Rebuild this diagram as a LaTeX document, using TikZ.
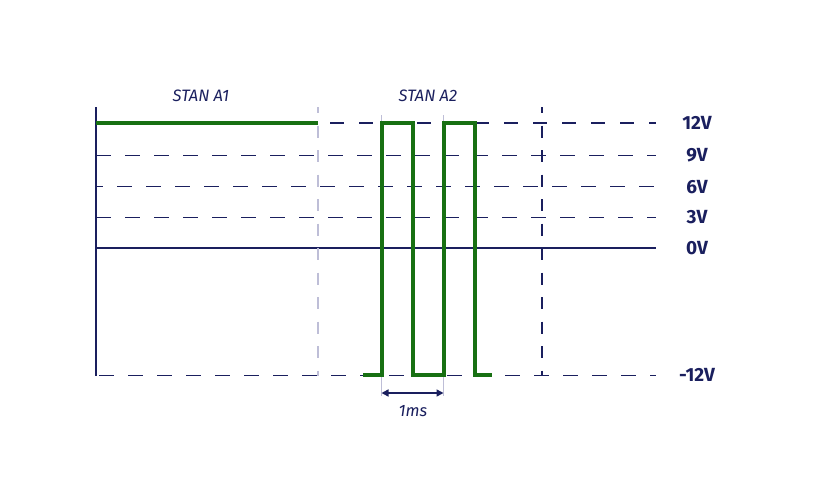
\documentclass[tikz,border=0pt]{standalone}
\usepackage{fontspec}
\setmainfont{Fira Sans}
\usetikzlibrary{arrows.meta}
\definecolor{navy}{RGB}{26,31,94}
\definecolor{sig}{RGB}{24,112,18}
\definecolor{guide}{RGB}{190,190,215}
\tikzset{
  grid/.style={navy, line width=1pt, dash pattern=on 15pt off 14pt},
  gridthick/.style={navy, line width=2.2pt, dash pattern=on 14pt off 15pt},
  guideline/.style={guide, line width=1pt},
  signal/.style={sig, line width=4pt, line join=miter},
  vlabel/.style={navy, font=\bfseries\fontsize{19}{19}\selectfont, anchor=center},
  stlabel/.style={navy, font=\itshape\fontsize{16.5}{17}\selectfont},
}
\begin{document}
\begin{tikzpicture}[x=1pt,y=-1pt]
\useasboundingbox (0,0) rectangle (814,480);
% coordinates
\coordinate (axT) at (96,107);
\coordinate (axB) at (96,376);
\foreach \n/\y in {v12/123, v9/155, v6/186, v3/217, v0/248, vm/375}{
  \coordinate (\n L) at (96,\y);
  \coordinate (\n R) at (656,\y);
}
\coordinate (v12M) at (318,123);
% grid lines
\draw[grid] (v9L) -- (v9R);
\draw[grid, dash phase=8pt] (v6L) -- (v6R);
\draw[grid] (v3L) -- (v3R);
\draw[grid, dash phase=26pt] (vmL) -- (vmR);
\draw[navy, line width=1.3pt] (v0L) -- (v0R);
\draw[gridthick, dash phase=17pt] (v12M) -- (v12R);
% vertical separators
\coordinate (s1T) at (318,107); \coordinate (s1B) at (318,376);
\draw[guide, line width=1.3pt, dash pattern=on 12pt off 12.5pt, dash phase=6pt] (s1T) -- (s1B);
\coordinate (s2T) at (542,107); \coordinate (s2B) at (542,376);
\draw[navy, line width=1.1pt, dash pattern=on 12pt off 12.5pt, dash phase=6pt] (s2T) -- (s2B);
% guide ticks
\coordinate (g1T) at (381.5,115); \coordinate (g1B) at (381.5,396);
\coordinate (g2T) at (443.5,115); \coordinate (g2B) at (443.5,396);
\draw[guideline] (g1T) -- (381.5,123);
\draw[guideline] (g2T) -- (443.5,123);
\draw[guideline] (381.5,375) -- (g1B);
\draw[guideline] (443.5,375) -- (g2B);
% axis
\draw[navy, line width=2pt] (axT) -- (axB);
% signals
\draw[signal] (v12L) -- (v12M);
\coordinate (w0) at (363,375);
\draw[signal] (w0) -- (381.5,375) -- (381.5,123) -- (412.5,123) -- (412.5,375)
  -- (443.5,375) -- (443.5,123) -- (475,123) -- (475,375) -- (492,375);
% 1ms arrow
\coordinate (a1) at (381.5,393); \coordinate (a2) at (443.5,393);
\draw[navy, line width=1.5pt, {Stealth[length=7pt,width=7pt,inset=0pt]}-{Stealth[length=7pt,width=7pt,inset=0pt]}] (a1) -- (a2);
\node[stlabel] (ms) at (413,411) {1ms};
% state labels
\node[stlabel] (A1) at (201,96) {STAN A1};
\node[stlabel] (A2) at (428,96) {STAN A2};
% voltage labels
\node[vlabel] (l12) at (697,123) {12V};
\node[vlabel] (l9) at (697,155) {9V};
\node[vlabel] (l6) at (697,187) {6V};
\node[vlabel] (l3) at (697,217) {3V};
\node[vlabel] (l0) at (697,248) {0V};
\node[vlabel] (lm) at (697,375) {-12V};
\end{tikzpicture}
\end{document}
